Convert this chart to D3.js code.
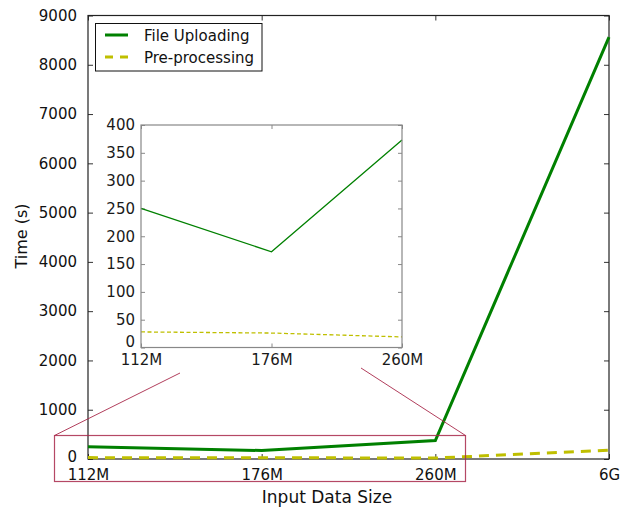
<!DOCTYPE html>
<html>
<head>
<meta charset="utf-8">
<script src="https://cdn.jsdelivr.net/npm/d3@7"></script>
<style>
  html, body { margin: 0; padding: 0; background: #fff; }
  svg { display: block; font-family: "DejaVu Sans", sans-serif; }
</style>
</head>
<body>
<svg id="chart" width="624" height="510"></svg>
<script>
// Input sizes and measured times (seconds)
const sizes = ["112M", "176M", "260M", "6G"];
const uploadTimes = [250, 172, 373, 8560];
const preprocessTimes = [28, 26, 19, 180];
const mainYTicks = [0, 1000, 2000, 3000, 4000, 5000, 6000, 7000, 8000, 9000];
const insetYTicks = [0, 50, 100, 150, 200, 250, 300, 350, 400];
const seriesNames = ["File Uploading", "Pre-processing"];

const GREEN = "#008000";
const YELLOW = "#bfbf00";
const ZOOM_RED = "#a8284a";
const fmt = d3.format("d");

const svg = d3.select("#chart");

// ---------- main axes ----------
const M = { left: 88, right: 609, top: 15.5, bottom: 459 };
const x = d3.scalePoint().domain(sizes).range([M.left, M.right]);
const y = d3.scaleLinear().domain([0, 9000]).range([M.bottom, M.top]);

const main = svg.append("g");

// inward ticks on all four sides
const tickLen = 5;
main.append("g").attr("transform", `translate(0,${M.bottom})`)
  .call(d3.axisBottom(x).tickSizeInner(-tickLen).tickSizeOuter(0).tickPadding(10))
  .call(g => g.select(".domain").remove());
main.append("g").attr("transform", `translate(0,${M.top})`)
  .call(d3.axisTop(x).tickSizeInner(-tickLen).tickSizeOuter(0).tickFormat(""))
  .call(g => g.select(".domain").remove());
main.append("g").attr("transform", `translate(${M.left},0)`)
  .call(d3.axisLeft(y).tickValues(mainYTicks).tickFormat(fmt)
    .tickSizeInner(-tickLen).tickSizeOuter(0).tickPadding(11))
  .call(g => g.select(".domain").remove())
  .call(g => g.selectAll(".tick").filter(d => d === 0).select("text").attr("dy", "0.15em"));
main.append("g").attr("transform", `translate(${M.right},0)`)
  .call(d3.axisRight(y).tickValues(mainYTicks).tickSizeInner(-tickLen).tickSizeOuter(0).tickFormat(""))
  .call(g => g.select(".domain").remove());

main.selectAll(".tick text").attr("font-size", 15).attr("fill", "#111")
  .attr("font-family", "DejaVu Sans, sans-serif");
main.selectAll(".tick line").attr("stroke", "#333");

main.append("rect")
  .attr("x", M.left).attr("y", M.top)
  .attr("width", M.right - M.left).attr("height", M.bottom - M.top)
  .attr("fill", "none").attr("stroke", "#222").attr("stroke-width", 1.2);

// axis titles
svg.append("text")
  .attr("x", 327).attr("y", 503)
  .attr("text-anchor", "middle").attr("font-size", 17).attr("fill", "#111")
  .text("Input Data Size");
svg.append("text")
  .attr("transform", "translate(27,236) rotate(-90)")
  .attr("text-anchor", "middle").attr("font-size", 16).attr("fill", "#111")
  .text("Time (s)");

// series lines
const mainLine = d3.line().x((d, i) => x(sizes[i])).y(d => y(d));
main.append("path").datum(uploadTimes)
  .attr("d", mainLine).attr("fill", "none")
  .attr("stroke", GREEN).attr("stroke-width", 3);
main.append("path").datum(preprocessTimes)
  .attr("d", mainLine).attr("fill", "none")
  .attr("stroke", YELLOW).attr("stroke-width", 3)
  .attr("stroke-dasharray", "10,7");

// ---------- zoom indicator ----------
const zoomBox = { x0: 54.5, x1: 465.5, y0: 435.5, y1: 481.5 };
svg.append("rect")
  .attr("x", zoomBox.x0).attr("y", zoomBox.y0)
  .attr("width", zoomBox.x1 - zoomBox.x0).attr("height", zoomBox.y1 - zoomBox.y0)
  .attr("fill", "none").attr("stroke", ZOOM_RED).attr("stroke-opacity", 0.85).attr("stroke-width", 1.2);
svg.append("line")
  .attr("x1", zoomBox.x0).attr("y1", zoomBox.y0).attr("x2", 180).attr("y2", 373)
  .attr("stroke", ZOOM_RED).attr("stroke-width", 0.9);
svg.append("line")
  .attr("x1", zoomBox.x1).attr("y1", zoomBox.y0).attr("x2", 361).attr("y2", 368)
  .attr("stroke", ZOOM_RED).attr("stroke-width", 0.9);

// ---------- inset ----------
const I = { left: 141, right: 402, top: 125, bottom: 347.5 };
const insetSizes = sizes.slice(0, 3);
const xi = d3.scalePoint().domain(insetSizes).range([I.left, I.right]);
const yi = d3.scaleLinear().domain([0, 400]).range([I.bottom, I.top]);

const inset = svg.append("g");
inset.append("rect")
  .attr("x", I.left).attr("y", I.top)
  .attr("width", I.right - I.left).attr("height", I.bottom - I.top)
  .attr("fill", "#fff");

const insetTick = 4;
inset.append("g").attr("transform", `translate(0,${I.bottom})`)
  .call(d3.axisBottom(xi).tickSizeInner(-insetTick).tickSizeOuter(0).tickPadding(7))
  .call(g => g.select(".domain").remove());
inset.append("g").attr("transform", `translate(0,${I.top})`)
  .call(d3.axisTop(xi).tickSizeInner(-insetTick).tickSizeOuter(0).tickFormat(""))
  .call(g => g.select(".domain").remove());
inset.append("g").attr("transform", `translate(${I.left},0)`)
  .call(d3.axisLeft(yi).tickValues(insetYTicks).tickFormat(fmt)
    .tickSizeInner(-insetTick).tickSizeOuter(0).tickPadding(6))
  .call(g => g.select(".domain").remove())
  .call(g => g.selectAll(".tick").filter(d => d === 0).select("text").attr("dy", "-0.05em"));
inset.append("g").attr("transform", `translate(${I.right},0)`)
  .call(d3.axisRight(yi).tickValues(insetYTicks).tickSizeInner(-insetTick).tickSizeOuter(0).tickFormat(""))
  .call(g => g.select(".domain").remove());

inset.selectAll(".tick text").attr("font-size", 15).attr("fill", "#1a1a1a")
  .attr("font-family", "DejaVu Sans, sans-serif");
inset.selectAll(".tick line").attr("stroke", "#888");

const insetLine = d3.line().x((d, i) => xi(insetSizes[i])).y(d => yi(d));
inset.append("path").datum(uploadTimes.slice(0, 3))
  .attr("d", insetLine).attr("fill", "none")
  .attr("stroke", GREEN).attr("stroke-width", 1.3);
inset.append("path").datum(preprocessTimes.slice(0, 3))
  .attr("d", insetLine).attr("fill", "none")
  .attr("stroke", YELLOW).attr("stroke-width", 1.3)
  .attr("stroke-dasharray", "4,2.5");

inset.append("rect")
  .attr("x", I.left).attr("y", I.top)
  .attr("width", I.right - I.left).attr("height", I.bottom - I.top)
  .attr("fill", "none").attr("stroke", "#888").attr("stroke-width", 1.2);

// ---------- legend ----------
const legend = svg.append("g");
legend.append("rect")
  .attr("x", 95.5).attr("y", 23.5).attr("width", 166.5).attr("height", 47.5)
  .attr("fill", "#fff").attr("stroke", "#111").attr("stroke-width", 1);
const legendItems = [
  { name: seriesNames[0], color: GREEN, dash: null, yy: 35 },
  { name: seriesNames[1], color: YELLOW, dash: "8,7", yy: 57 }
];
legendItems.forEach(it => {
  legend.append("line")
    .attr("x1", 105).attr("x2", 128).attr("y1", it.yy).attr("y2", it.yy)
    .attr("stroke", it.color).attr("stroke-width", 3)
    .attr("stroke-dasharray", it.dash);
  legend.append("text")
    .attr("x", 144).attr("y", it.yy + 5.5)
    .attr("font-size", 15).attr("fill", "#111")
    .text(it.name);
});
</script>
</body>
</html>
